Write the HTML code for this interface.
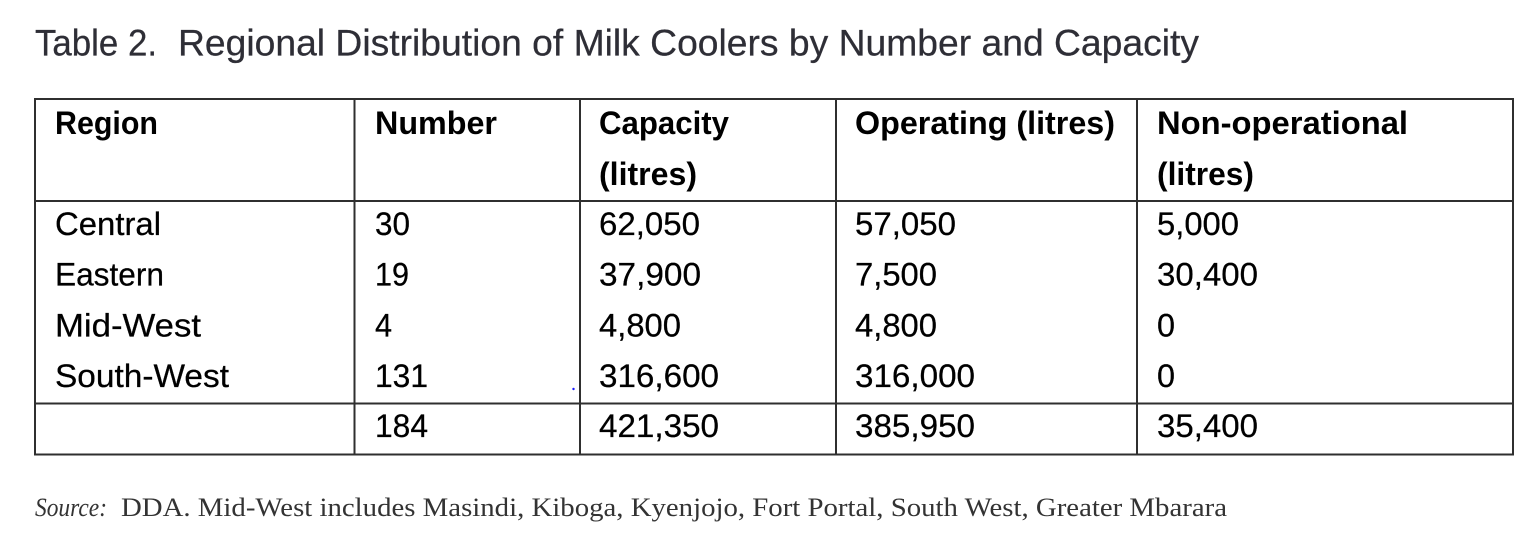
<!DOCTYPE html>
<html>
<head>
<meta charset="utf-8">
<style>
  html, body { margin: 0; padding: 0; background: #ffffff; }
  body { width: 1538px; height: 556px; overflow: hidden; }
  svg { display: block; }
  .t { font-family: "Liberation Sans", "DejaVu Sans", sans-serif; fill: #2e2e36; stroke: #2e2e36; stroke-width: 0.25px; }
  .h { font-family: "Liberation Sans", "DejaVu Sans", sans-serif; font-weight: bold; fill: #000; font-size: 32px; }
  .b { font-family: "Liberation Sans", "DejaVu Sans", sans-serif; fill: #000; font-size: 32.4px; stroke: #000; stroke-width: 0.25px; }
  .s { font-family: "Liberation Serif", "DejaVu Serif", serif; fill: #333; font-size: 26.5px; }
</style>
</head>
<body>
<svg width="1538" height="556" viewBox="0 0 1538 556" xmlns="http://www.w3.org/2000/svg">
  <rect x="0" y="0" width="1538" height="556" fill="#ffffff"/>

  <!-- Title -->
  <text class="t" x="35" y="55.5" font-size="37" textLength="122" lengthAdjust="spacingAndGlyphs">Table 2.</text>
  <text class="t" x="178" y="55.5" font-size="37" textLength="1021" lengthAdjust="spacingAndGlyphs">Regional Distribution of Milk Coolers by Number and Capacity</text>

  <!-- Table grid -->
  <g fill="#2f2f2f">
    <rect x="34" y="98" width="1480" height="2"/>
    <rect x="34" y="453.5" width="1480" height="2"/>
    <rect x="34" y="98" width="2" height="357.5"/>
    <rect x="1512" y="98" width="2" height="357.5"/>
    <rect x="34" y="200" width="1480" height="2"/>
    <rect x="34" y="402.5" width="1480" height="2"/>
    <rect x="353.5" y="98" width="2" height="357.5"/>
    <rect x="579" y="98" width="2" height="357.5"/>
    <rect x="835" y="98" width="2" height="357.5"/>
    <rect x="1136" y="98" width="2" height="357.5"/>
  </g>

  <!-- Header -->
  <text class="h" x="55" y="134" textLength="103" lengthAdjust="spacingAndGlyphs">Region</text>
  <text class="h" x="375" y="134" textLength="122" lengthAdjust="spacingAndGlyphs">Number</text>
  <text class="h" x="599" y="134" textLength="130" lengthAdjust="spacingAndGlyphs">Capacity</text>
  <text class="h" x="599" y="185" textLength="98" lengthAdjust="spacingAndGlyphs">(litres)</text>
  <text class="h" x="855" y="134" textLength="260" lengthAdjust="spacingAndGlyphs">Operating (litres)</text>
  <text class="h" x="1157" y="134" textLength="251" lengthAdjust="spacingAndGlyphs">Non-operational</text>
  <text class="h" x="1157" y="185" textLength="97" lengthAdjust="spacingAndGlyphs">(litres)</text>

  <!-- Row: Central -->
  <text class="b" x="55" y="235" textLength="106" lengthAdjust="spacingAndGlyphs">Central</text>
  <text class="b" x="375" y="235" textLength="35" lengthAdjust="spacingAndGlyphs">30</text>
  <text class="b" x="599" y="235" textLength="101" lengthAdjust="spacingAndGlyphs">62,050</text>
  <text class="b" x="855" y="235" textLength="101" lengthAdjust="spacingAndGlyphs">57,050</text>
  <text class="b" x="1157" y="235" textLength="82" lengthAdjust="spacingAndGlyphs">5,000</text>

  <!-- Row: Eastern -->
  <text class="b" x="55" y="285.5" textLength="109" lengthAdjust="spacingAndGlyphs">Eastern</text>
  <text class="b" x="375" y="285.5" textLength="34" lengthAdjust="spacingAndGlyphs">19</text>
  <text class="b" x="599" y="285.5" textLength="102" lengthAdjust="spacingAndGlyphs">37,900</text>
  <text class="b" x="855" y="285.5" textLength="82" lengthAdjust="spacingAndGlyphs">7,500</text>
  <text class="b" x="1157" y="285.5" textLength="101" lengthAdjust="spacingAndGlyphs">30,400</text>

  <!-- Row: Mid-West -->
  <text class="b" x="55" y="336.5" textLength="146" lengthAdjust="spacingAndGlyphs">Mid-West</text>
  <text class="b" x="375" y="336.5" textLength="17" lengthAdjust="spacingAndGlyphs">4</text>
  <text class="b" x="599" y="336.5" textLength="82" lengthAdjust="spacingAndGlyphs">4,800</text>
  <text class="b" x="855" y="336.5" textLength="82" lengthAdjust="spacingAndGlyphs">4,800</text>
  <text class="b" x="1157" y="336.5" textLength="18" lengthAdjust="spacingAndGlyphs">0</text>

  <!-- Row: South-West -->
  <text class="b" x="55" y="387" textLength="174" lengthAdjust="spacingAndGlyphs">South-West</text>
  <text class="b" x="375" y="387" textLength="53" lengthAdjust="spacingAndGlyphs">131</text>
  <text class="b" x="599" y="387" textLength="120" lengthAdjust="spacingAndGlyphs">316,600</text>
  <text class="b" x="855" y="387" textLength="120" lengthAdjust="spacingAndGlyphs">316,000</text>
  <text class="b" x="1157" y="387" textLength="18" lengthAdjust="spacingAndGlyphs">0</text>
  <circle cx="573.5" cy="389" r="1.2" fill="#1a1aff"/>

  <!-- Total row -->
  <text class="b" x="375" y="437" textLength="53" lengthAdjust="spacingAndGlyphs">184</text>
  <text class="b" x="599" y="437" textLength="120" lengthAdjust="spacingAndGlyphs">421,350</text>
  <text class="b" x="855" y="437" textLength="120" lengthAdjust="spacingAndGlyphs">385,950</text>
  <text class="b" x="1157" y="437" textLength="101" lengthAdjust="spacingAndGlyphs">35,400</text>

  <!-- Source -->
  <text class="s" x="35" y="516" font-style="italic" textLength="72" lengthAdjust="spacingAndGlyphs">Source:</text>
  <text class="s" x="121" y="516" textLength="1106" lengthAdjust="spacingAndGlyphs">DDA. Mid-West includes Masindi, Kiboga, Kyenjojo, Fort Portal, South West, Greater Mbarara</text>
</svg>
</body>
</html>
